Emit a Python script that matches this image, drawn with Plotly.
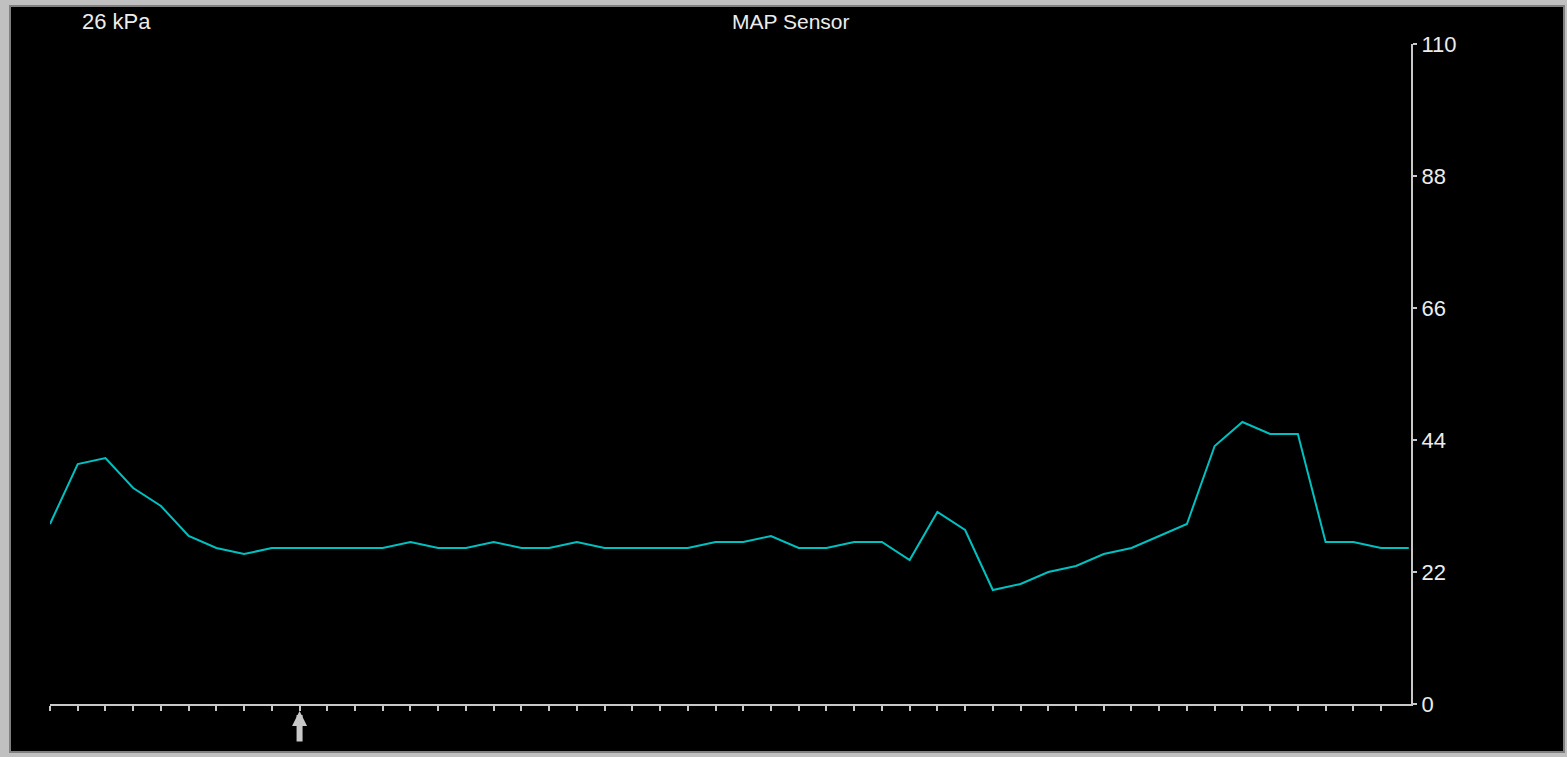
import plotly.graph_objects as go

# Data
sample_index = list(range(50))
map_kpa = [30, 40, 41, 36, 33, 28, 26, 25, 26, 26,
           26, 26, 26, 27, 26, 26, 27, 26, 26, 27,
           26, 26, 26, 26, 27, 27, 28, 26, 26, 27,
           27, 24, 32, 29, 19, 20, 22, 23, 25, 26,
           28, 30, 43, 47, 45, 45, 27, 27, 26, 26]
y_ticks = [0, 22, 44, 66, 88, 110]
x_ticks = list(range(49))
cursor_index = 9
title_text = "MAP Sensor"
readout_text = f"{map_kpa[cursor_index]} kPa"

W, H = 1567, 757
L, R, T, B = 50, 1411, 44, 704   # plot area in pixels


def px_x(px):
    return (px - L) / (R - L)


def px_y(py):
    return (B - py) / (B - T)


AXC = "#c8c8c8"
TXT = "#ececec"
FONT = "Liberation Sans, Arial, sans-serif"

fig = go.Figure()
fig.add_trace(go.Scatter(
    x=sample_index, y=map_kpa, mode="lines",
    line=dict(color="#00c0c0", width=2),
    hoverinfo="skip", showlegend=False,
))

fig.update_layout(
    width=W, height=H,
    margin=dict(l=L, r=W - R, t=T, b=H - B, pad=0),
    paper_bgcolor="#c0c0c0",
    plot_bgcolor="#000000",
    showlegend=False,
    xaxis=dict(
        range=[0, 49.08], tickvals=x_ticks, showticklabels=False,
        showline=True, linecolor=AXC, linewidth=2,
        ticks="outside", ticklen=5, tickwidth=2, tickcolor=AXC,
        showgrid=False, zeroline=False, fixedrange=True,
    ),
    yaxis=dict(
        range=[0, 110], tickvals=y_ticks, side="right",
        showline=True, linecolor=AXC, linewidth=2,
        ticks="outside", ticklen=4, tickwidth=2, tickcolor=AXC,
        tickfont=dict(family=FONT, size=22, color=TXT),
        showgrid=False, zeroline=False, fixedrange=True,
    ),
    shapes=[dict(
        type="rect", xref="paper", yref="paper", layer="below",
        x0=px_x(10), x1=px_x(1564), y0=px_y(752), y1=px_y(6),
        fillcolor="#000000", line=dict(color="#808080", width=2),
    )],
    annotations=[
        dict(text=title_text, xref="paper", yref="paper",
             x=px_x(791), y=px_y(22), xanchor="center", yanchor="middle",
             showarrow=False, font=dict(family=FONT, size=21, color=TXT)),
        dict(text=readout_text, xref="paper", yref="paper",
             x=px_x(80), y=px_y(22), xanchor="left", yanchor="middle",
             showarrow=False, font=dict(family=FONT, size=22, color=TXT)),
        dict(text="", x=cursor_index, xref="x", y=px_y(711), yref="paper",
             showarrow=True, ax=0, ay=32, arrowhead=2, arrowsize=0.5,
             arrowwidth=6, arrowcolor="#c8c8c8"),
    ],
)

fig.write_html(
    "out.html",
    config={"displayModeBar": False},
    post_script="document.body.style.margin='0px';"
                "document.body.style.background='#c0c0c0';",
)
